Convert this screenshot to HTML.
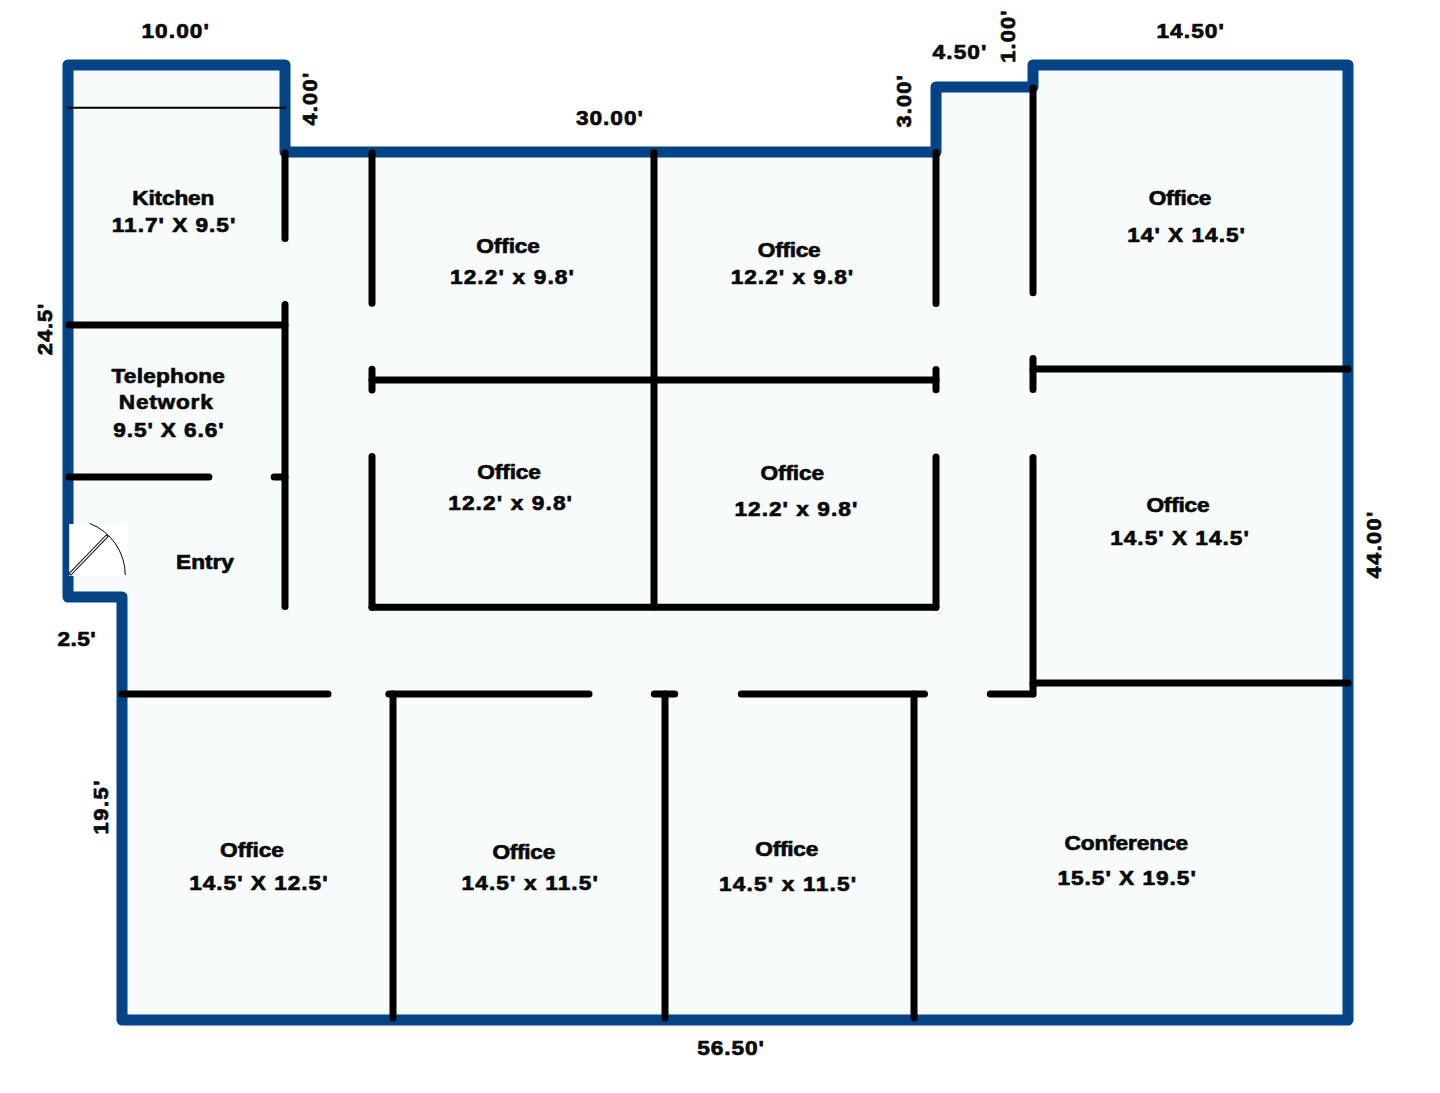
<!DOCTYPE html><html><head><meta charset="utf-8"><style>html,body{margin:0;padding:0;background:#fff;overflow:hidden;}svg{display:block;}text{font-family:"Liberation Sans",sans-serif;font-weight:bold;fill:#0a0a0a;stroke:#0a0a0a;stroke-width:0.7px;stroke-linejoin:round;}</style></head><body>
<svg width="1440" height="1093" viewBox="0 0 1440 1093">
<rect width="1440" height="1093" fill="#fff"/>
<path d="M68,65 H285 V152 H936 V87 H1033 V65 H1348 V1020 H122 V597 H68 Z" fill="#f7fbfc" stroke="#044386" stroke-width="11" stroke-linejoin="round"/>
<line x1="67" y1="107.7" x2="286" y2="107.7" stroke="#000" stroke-width="2"/>
<rect x="69.2" y="524" width="58.3" height="52" fill="#fff"/>
<path d="M89.6,523.4 A55.6,55.6 0 0 1 125.3,575" fill="none" stroke="#000" stroke-width="1"/>
<line x1="69.6" y1="574.6" x2="107.6" y2="535.4" stroke="#000" stroke-width="3.4"/>
<line x1="70.3" y1="573.9" x2="106.9" y2="536.1" stroke="#fff" stroke-width="1.4"/>
<g stroke="#000" stroke-width="7" stroke-linecap="round">
<line x1="285" y1="153" x2="285" y2="238.5"/>
<line x1="285" y1="304.4" x2="285" y2="606.6"/>
<line x1="68.8" y1="325" x2="285" y2="325"/>
<line x1="68.8" y1="477.1" x2="208.9" y2="477.1"/>
<line x1="274.2" y1="477.1" x2="285" y2="477.1"/>
<line x1="372" y1="152.7" x2="372" y2="303.3"/>
<line x1="654" y1="152.5" x2="654" y2="607"/>
<line x1="936" y1="152.5" x2="936" y2="303.6"/>
<line x1="372" y1="380.1" x2="936" y2="380.1"/>
<line x1="372" y1="369.2" x2="372" y2="389.9"/>
<line x1="936" y1="369.6" x2="936" y2="389.8"/>
<line x1="372" y1="456.5" x2="372" y2="607.2"/>
<line x1="936" y1="457" x2="936" y2="607.2"/>
<line x1="372" y1="607.2" x2="936" y2="607.2"/>
<line x1="1033" y1="88" x2="1033" y2="292.7"/>
<line x1="1033" y1="369" x2="1348" y2="369"/>
<line x1="1033" y1="358.6" x2="1033" y2="389.4"/>
<line x1="1033" y1="457.5" x2="1033" y2="693.9"/>
<line x1="1033" y1="683" x2="1348" y2="683"/>
<line x1="122" y1="693.9" x2="328" y2="693.9"/>
<line x1="388.8" y1="693.9" x2="589" y2="693.9"/>
<line x1="654.3" y1="693.9" x2="674.7" y2="693.9"/>
<line x1="741.3" y1="693.9" x2="924.5" y2="693.9"/>
<line x1="990.3" y1="693.9" x2="1033" y2="693.9"/>
<line x1="393" y1="693.9" x2="393" y2="1018"/>
<line x1="665" y1="693.9" x2="665" y2="1018"/>
<line x1="914" y1="693.9" x2="914" y2="1018"/>
</g>
<text transform="translate(141.40 38.10) scale(1.08 1)" font-size="21" textLength="62.50" lengthAdjust="spacing">10.00&#39;</text>
<text transform="translate(317.20 125.60) rotate(-90) scale(1.08 1)" font-size="20.2" textLength="48.80" lengthAdjust="spacing">4.00&#39;</text>
<text transform="translate(575.90 124.90) scale(1.08 1)" font-size="21" textLength="62.04" lengthAdjust="spacing">30.00&#39;</text>
<text transform="translate(911.00 127.40) rotate(-90) scale(1.08 1)" font-size="20.2" textLength="48.24" lengthAdjust="spacing">3.00&#39;</text>
<text transform="translate(932.60 59.10) scale(1.08 1)" font-size="21" textLength="49.81" lengthAdjust="spacing">4.50&#39;</text>
<text transform="translate(1015.00 62.80) rotate(-90) scale(1.08 1)" font-size="20.2" textLength="48.33" lengthAdjust="spacing">1.00&#39;</text>
<text transform="translate(1156.40 37.50) scale(1.08 1)" font-size="21" textLength="62.50" lengthAdjust="spacing">14.50&#39;</text>
<text transform="translate(132.20 204.60) scale(1.08 1)" font-size="21" textLength="76.11" lengthAdjust="spacing">Kitchen</text>
<text transform="translate(111.80 231.90) scale(1.08 1)" font-size="21" textLength="114.35" lengthAdjust="spacing">11.7&#39; X 9.5&#39;</text>
<text transform="translate(476.30 253.20) scale(1.08 1)" font-size="21" textLength="58.89" lengthAdjust="spacing">Office</text>
<text transform="translate(449.90 283.60) scale(1.08 1)" font-size="21" textLength="114.91" lengthAdjust="spacing">12.2&#39; x 9.8&#39;</text>
<text transform="translate(757.80 256.60) scale(1.08 1)" font-size="21" textLength="58.24" lengthAdjust="spacing">Office</text>
<text transform="translate(730.70 283.70) scale(1.08 1)" font-size="21" textLength="113.43" lengthAdjust="spacing">12.2&#39; x 9.8&#39;</text>
<text transform="translate(1148.70 205.30) scale(1.08 1)" font-size="21" textLength="57.96" lengthAdjust="spacing">Office</text>
<text transform="translate(1127.20 242.00) scale(1.08 1)" font-size="21" textLength="109.07" lengthAdjust="spacing">14&#39; X 14.5&#39;</text>
<text transform="translate(52.00 355.20) rotate(-90) scale(1.08 1)" font-size="20.2" textLength="47.69" lengthAdjust="spacing">24.5&#39;</text>
<text transform="translate(111.40 382.90) scale(1.08 1)" font-size="21" textLength="105.09" lengthAdjust="spacing">Telephone</text>
<text transform="translate(118.80 408.80) scale(1.08 1)" font-size="21" textLength="87.04" lengthAdjust="spacing">Network</text>
<text transform="translate(113.20 436.80) scale(1.08 1)" font-size="21" textLength="102.31" lengthAdjust="spacing">9.5&#39; X 6.6&#39;</text>
<text transform="translate(477.30 478.70) scale(1.08 1)" font-size="21" textLength="58.98" lengthAdjust="spacing">Office</text>
<text transform="translate(448.20 510.20) scale(1.08 1)" font-size="21" textLength="114.63" lengthAdjust="spacing">12.2&#39; x 9.8&#39;</text>
<text transform="translate(760.40 479.60) scale(1.08 1)" font-size="21" textLength="59.07" lengthAdjust="spacing">Office</text>
<text transform="translate(734.40 516.30) scale(1.08 1)" font-size="21" textLength="113.80" lengthAdjust="spacing">12.2&#39; x 9.8&#39;</text>
<text transform="translate(1146.40 512.40) scale(1.08 1)" font-size="21" textLength="58.52" lengthAdjust="spacing">Office</text>
<text transform="translate(1110.20 545.20) scale(1.08 1)" font-size="21" textLength="128.33" lengthAdjust="spacing">14.5&#39; X 14.5&#39;</text>
<text transform="translate(1381.30 578.40) rotate(-90) scale(1.08 1)" font-size="20.2" textLength="61.76" lengthAdjust="spacing">44.00&#39;</text>
<text transform="translate(176.10 568.80) scale(1.08 1)" font-size="21" textLength="53.61" lengthAdjust="spacing">Entry</text>
<text transform="translate(57.50 645.90) scale(1.08 1)" font-size="21" textLength="35.37" lengthAdjust="spacing">2.5&#39;</text>
<text transform="translate(107.50 834.60) rotate(-90) scale(1.08 1)" font-size="20.2" textLength="50.09" lengthAdjust="spacing">19.5&#39;</text>
<text transform="translate(220.10 856.50) scale(1.08 1)" font-size="21" textLength="59.07" lengthAdjust="spacing">Office</text>
<text transform="translate(189.20 890.00) scale(1.08 1)" font-size="21" textLength="128.15" lengthAdjust="spacing">14.5&#39; X 12.5&#39;</text>
<text transform="translate(492.40 858.50) scale(1.08 1)" font-size="21" textLength="58.24" lengthAdjust="spacing">Office</text>
<text transform="translate(461.50 889.60) scale(1.08 1)" font-size="21" textLength="126.30" lengthAdjust="spacing">14.5&#39; x 11.5&#39;</text>
<text transform="translate(755.30 855.70) scale(1.08 1)" font-size="21" textLength="58.33" lengthAdjust="spacing">Office</text>
<text transform="translate(718.90 890.80) scale(1.08 1)" font-size="21" textLength="127.04" lengthAdjust="spacing">14.5&#39; x 11.5&#39;</text>
<text transform="translate(1064.50 849.90) scale(1.08 1)" font-size="21" textLength="114.44" lengthAdjust="spacing">Conference</text>
<text transform="translate(1057.40 884.90) scale(1.08 1)" font-size="21" textLength="128.15" lengthAdjust="spacing">15.5&#39; X 19.5&#39;</text>
<text transform="translate(697.30 1055.10) scale(1.08 1)" font-size="21" textLength="61.67" lengthAdjust="spacing">56.50&#39;</text>
</svg></body></html>
